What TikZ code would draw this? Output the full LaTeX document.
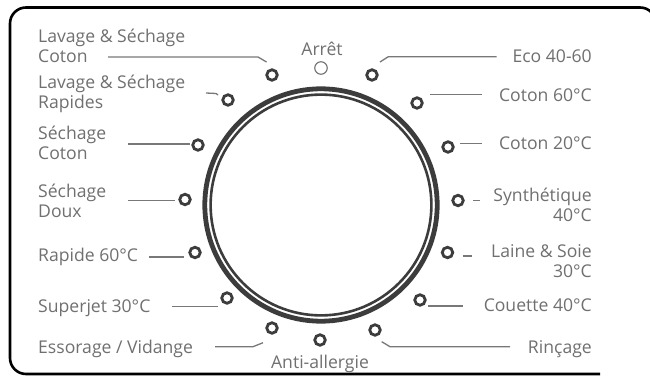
\documentclass[tikz,border=0pt]{standalone}
\usepackage{fontspec}
\setmainfont{Open Sans}
\definecolor{labelgray}{RGB}{112,112,112}
\definecolor{leadergray}{RGB}{120,120,120}
\definecolor{dialgray}{RGB}{60,60,60}

\begin{document}
\begin{tikzpicture}[x=1pt, y=-1pt,
    knob/.style={circle, draw=dialgray, line width=2.8pt, inner sep=0pt, minimum size=10.5pt},
    offknob/.style={circle, draw=labelgray, line width=1.1pt, inner sep=0pt, minimum size=12.5pt},
    lbl/.style={inner sep=0pt, text=labelgray, font=\fontsize{17.6}{20}\selectfont},
    leader/.style={draw=leadergray, line width=1.3pt}]
    \useasboundingbox (0,0) rectangle (650,382);
    \fill[white] (0,0) rectangle (650,382);
    % frame, its right side runs off the picture
    \draw[line width=2.6pt, rounded corners=16pt] (600,374) -- (10,374) -- (10,7.5) -- (656,7.5) -- (656,120);

    % the dial: two rings
    \draw[dialgray, line width=4.8pt] (321,205) circle[radius=116.2pt];
    \draw[dialgray, line width=2.6pt] (321,205) circle[radius=110.4pt];

    % knob positions, clockwise from the top
    \node[offknob] (k-arret)     at (321,68)    {};
    \node[knob]    (k-eco)       at (372,75)    {};
    \node[knob]    (k-coton60)   at (417,103)   {};
    \node[knob]    (k-coton20)   at (448,147)   {};
    \node[knob]    (k-synth)     at (458,200.5) {};
    \node[knob]    (k-laine)     at (447.5,252.5) {};
    \node[knob]    (k-couette)   at (420,300)   {};
    \node[knob]    (k-rincage)   at (375,330)   {};
    \node[knob]    (k-anti)      at (320,340)   {};
    \node[knob]    (k-essorage)  at (272,328)   {};
    \node[knob]    (k-superjet)  at (227,298)   {};
    \node[knob]    (k-rapide)    at (195,252.5) {};
    \node[knob]    (k-sdoux)     at (185,199.5) {};
    \node[knob]    (k-scoton)    at (198,145)   {};
    \node[knob]    (k-lsrapides) at (228,100)   {};
    \node[knob]    (k-lscoton)   at (272,75)    {};

    % labels (base of a two-line label is its last line)
    \node[lbl, anchor=base]       (arret) at (322,56)  {Arrêt};
    \node[lbl, anchor=base]       (anti)  at (320,368) {Anti-allergie};

    \node[lbl, anchor=base west, align=left] (lscoton)   at (38,63)    {Lavage \& Séchage\\Coton};
    \node[lbl, anchor=base west, align=left] (lsrapides) at (38,109)   {Lavage \& Séchage\\Rapides};
    \node[lbl, anchor=base west, align=left] (scoton)    at (38,159.5) {Séchage\\Coton};
    \node[lbl, anchor=base west, align=left] (sdoux)     at (38,217)   {Séchage\\Doux};
    \node[lbl, anchor=base west]             (rapide)    at (38,261.5) {Rapide 60°C};
    \node[lbl, anchor=base west]             (superjet)  at (38,312.5) {Superjet 30°C};
    \node[lbl, anchor=base west]             (essorage)  at (38,353)   {Essorage / Vidange};

    \node[lbl, anchor=base east, align=right] (eco)     at (592,63)    {Eco 40-60};
    \node[lbl, anchor=base east, align=right] (coton60) at (592,101.3) {Coton 60°C};
    \node[lbl, anchor=base east, align=right] (coton20) at (592,149.6) {Coton 20°C};
    \node[lbl, anchor=base east, align=right] (synth)   at (592,221)   {Synthétique\\40°C};
    \node[lbl, anchor=base east, align=right] (laine)   at (592,277.5) {Laine \& Soie\\30°C};
    \node[lbl, anchor=base east, align=right] (couette) at (592,311.3) {Couette 40°C};
    \node[lbl, anchor=base east, align=right] (rincage) at (592,353)   {Rinçage};

    % leaders, drawn from each knob
    \draw[leader, shift={(k-lscoton)}]   (-164,-18) -- (-14,-18) -- (-5.5,-13);
    \draw[leader, shift={(k-lsrapides)}] (-22,-7) -- (-12,-6.5) -- (-10,-5);
    \draw[leader, shift={(k-scoton)}]    (-70,-1) -- (-8,-1);
    \draw[leader, shift={(k-sdoux)}]     (-57,1.2) -- (-10,1.2);
    \draw[leader, shift={(k-rapide)}]    (-46,4.5) -- (-11,4.5);
    \draw[leader, shift={(k-superjet)}]  (-55,8.7) -- (-9,8.7);
    \draw[leader, shift={(k-essorage)}]  (-57,18.7) -- (-19,18.7) -- (-9,14.7);

    \draw[leader, shift={(k-eco)}]       (8,-13) -- (16.3,-18.3) -- (124.7,-18.3);
    \draw[leader, shift={(k-coton60)}]   (13,-8.7) -- (64.7,-8.7);
    \draw[leader, shift={(k-coton20)}]   (12,-3.7) -- (33.7,-3.7);
    \draw[leader, shift={(k-synth)}]     (15,0.2) -- (22,0.2);
    \draw[leader, shift={(k-laine)}]     (15,3.5) -- (24,3.5);
    \draw[leader, shift={(k-couette)}]   (8.3,6) -- (43.3,6);
    \draw[leader, shift={(k-rincage)}]   (6.7,11.7) -- (15,16.7) -- (135,16.7);
\end{tikzpicture}
\end{document}
